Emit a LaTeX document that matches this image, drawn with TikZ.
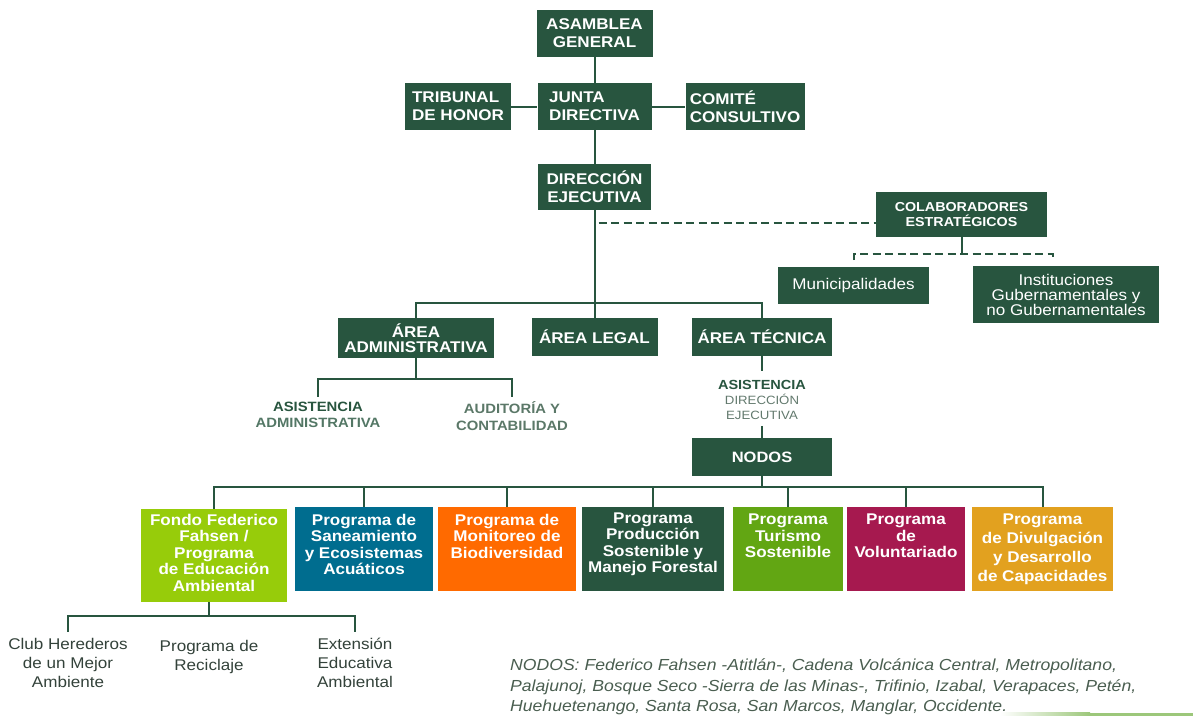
\documentclass[tikz,border=0pt]{standalone}
\usepackage{fontspec}
\setmainfont{Liberation Sans}[FakeStretch=1.1]
\usetikzlibrary{calc}
\definecolor{dg}{HTML}{28553F}
\definecolor{lime}{HTML}{97CC0A}
\definecolor{sblue}{HTML}{006D8F}
\definecolor{sorange}{HTML}{FF6A00}
\definecolor{tgreen}{HTML}{62A613}
\definecolor{vmag}{HTML}{A6194F}
\definecolor{dgold}{HTML}{E2A11F}
\definecolor{lbl}{HTML}{5B7868}
\definecolor{lbltwo}{HTML}{62796D}
\definecolor{subtxt}{HTML}{33423A}
\definecolor{notetxt}{HTML}{4A5E50}
\definecolor{lgreen}{HTML}{9CC77A}
\begin{document}
\begin{tikzpicture}[x=1pt,y=-1pt,
  box/.style={fill=#1, draw=none, inner sep=0pt, text=white, align=center},
  box/.default=dg,
  hd/.style={font=\bfseries\fontsize{15.5}{18}\selectfont},
  conn/.style={draw=dg, line width=2pt},
  dashline/.style={draw=dg, line width=2pt, dash pattern=on 8pt off 4.5pt},
  ptxt/.style={anchor=north, inner sep=0pt, text=white, align=center, font=\bfseries\fontsize{15.5}{16.5}\selectfont},
  lab/.style={inner sep=0pt, align=center, font=\bfseries\fontsize{13.5}{16}\selectfont},
  sub/.style={inner sep=0pt, align=center, text=subtxt, font=\fontsize{15.5}{19}\selectfont},
  note/.style={inner sep=0pt, align=left, text=notetxt, font=\itshape\fontsize{16}{20.5}\selectfont},
]
\useasboundingbox (0,0) rectangle (1193,717);

% top level
\node[box, hd, minimum width=116, minimum height=47] (asamblea) at (594.5,33.5) {ASAMBLEA\\GENERAL};
\node[box, hd, align=left, minimum width=114, minimum height=47] (junta) at (594.5,106.5) {JUNTA\\DIRECTIVA};
\node[box, hd, align=left, minimum width=106, minimum height=47] (tribunal) at (458,106.5) {TRIBUNAL\\DE HONOR};
\node[box, hd, align=left, minimum width=119, minimum height=47] (comite) at (745,106.5) {COMITÉ\\CONSULTIVO};
\node[box, hd, minimum width=113, minimum height=46] (direccion) at (594.5,187) {DIRECCIÓN\\EJECUTIVA};

% collaborators
\node[box, font=\bfseries\fontsize{13}{15.5}\selectfont, minimum width=171, minimum height=45] (colab) at (961.5,214.5) {COLABORADORES\\ESTRATÉGICOS};
\node[box, font=\fontsize{15.5}{17}\selectfont, minimum width=151, minimum height=37] (muni) at (853.5,285.5) {Municipalidades};
\node[box, font=\fontsize{15.5}{15}\selectfont, minimum width=186, minimum height=57] (inst) at (1066,294.5) {Instituciones\\Gubernamentales y\\no Gubernamentales};

% areas
\node[box, font=\bfseries\fontsize{15.5}{15.5}\selectfont, minimum width=156, minimum height=40] (areaadm) at (416,338) {ÁREA\\ADMINISTRATIVA};
\node[box, hd, minimum width=126, minimum height=38] (arealegal) at (594.5,337) {ÁREA LEGAL};
\node[box, hd, minimum width=140, minimum height=38] (areatec) at (762,337) {ÁREA TÉCNICA};

% labels
\node[lab] (asisadm) at (318,415) {{\color{dg}ASISTENCIA}\\{\color{dg!80!white}ADMINISTRATIVA}};
\node[lab, text=lbl, font=\bfseries\fontsize{13.5}{17}\selectfont] (auditoria) at (512,416.5) {AUDITORÍA Y\\CONTABILIDAD};
\node[lab, font=\bfseries\fontsize{13.2}{15}\selectfont] (asisdir) at (762,400) {{\color{dg}ASISTENCIA}\\{\mdseries\fontsize{12}{15}\selectfont\color{lbltwo}DIRECCIÓN}\\{\mdseries\fontsize{12}{15}\selectfont\color{lbltwo}EJECUTIVA}};

\node[box, font=\bfseries\fontsize{15}{17}\selectfont, minimum width=140, minimum height=38] (nodos) at (762,457) {NODOS};

% programs
\node[box=lime, minimum width=146, minimum height=93] (fondo) at (214,555.5) {};
\node[ptxt] (fondo-t) at (214,514) {Fondo Federico\\Fahsen /\\Programa\\de Educación\\Ambiental};
\node[box=sblue, minimum width=138, minimum height=84] (san) at (364,549) {};
\node[ptxt] (san-t) at (364,514) {Programa de\\Saneamiento\\y Ecosistemas\\Acuáticos};
\node[box=sorange, minimum width=138, minimum height=84] (mon) at (507,549) {};
\node[ptxt] (mon-t) at (507,514) {Programa de\\Monitoreo de\\Biodiversidad};
\node[box, minimum width=142, minimum height=84] (prod) at (653,549) {};
\node[ptxt] (prod-t) at (653,512.5) {Programa\\Producción\\Sostenible y\\Manejo Forestal};
\node[box=tgreen, minimum width=110, minimum height=84] (tur) at (788,549) {};
\node[ptxt] (tur-t) at (788,514) {Programa\\Turismo\\Sostenible};
\node[box=vmag, minimum width=118, minimum height=84] (vol) at (906,549) {};
\node[ptxt] (vol-t) at (906,514) {Programa\\de\\Voluntariado};
\node[box=dgold, minimum width=141, minimum height=84] (div) at (1042.5,549) {};
\node[ptxt, font=\bfseries\fontsize{15.5}{19}\selectfont] (div-t) at (1042.5,514) {Programa\\de Divulgación\\y Desarrollo\\de Capacidades};

% sub items
\node[sub] (club) at (68,663) {Club Herederos\\de un Mejor\\Ambiente};
\node[sub] (recic) at (209,657) {Programa de\\Reciclaje};
\node[sub] (ext) at (355,663) {Extensión\\Educativa\\Ambiental};

% note
\node[note, anchor=north west] (note) at (510,659) {NODOS: Federico Fahsen -Atitlán-, Cadena Volcánica Central, Metropolitano,\\Palajunoj, Bosque Seco -Sierra de las Minas-, Trifinio, Izabal, Verapaces, Petén,\\Huehuetenango, Santa Rosa, San Marcos, Manglar, Occidente.};

% connectors
\draw[conn] (asamblea.south) -- (junta.north);
\draw[conn] (tribunal.east) -- (junta.west);
\draw[conn] (junta.east) -- (comite.west);
\draw[conn] (junta.south) -- (direccion.north);
\coordinate (tb) at (594.5,303);
\draw[conn] (direccion.south) -- (arealegal.north);
\draw[conn] (areaadm.north) |- (tb) -| (areatec.north);

\coordinate (dj) at (594.5,223);
\draw[dashline] ([xshift=4pt]dj) -- (dj -| colab.west);
\coordinate (ytwo) at (0,254);
\coordinate (cb) at (colab.south |- ytwo);
\draw[conn] (colab.south) -- (cb);
\coordinate (dl) at (853.5,260);
\coordinate (dr) at (1053,260);
\draw[dashline] (dl) |- (cb) -| (dr);

\coordinate (ab) at (416,379);
\draw[conn] (areaadm.south) -- (ab);
\draw[conn, shorten >=5pt] (ab) -| (asisadm.north);
\draw[conn, shorten >=5pt] (ab) -| (auditoria.north);

\draw[conn, shorten >=9pt] (areatec.south) -- (asisdir.north);
\draw[conn, shorten <=6pt] (asisdir.south) -- (nodos.north);

\coordinate (nb) at (762,487);
\draw[conn] (nodos.south) -- (nb);
\foreach \p in {fondo,san,mon,prod,tur,vol,div}{
  \draw[conn] (nb) -| (\p.north);
}

\coordinate (fs) at (209,616);
\draw[conn] ([xshift=-5pt]fondo.south) -- (fs);
\draw[conn, shorten >=6pt] (fs) -| (club.north);
\draw[conn, shorten >=6pt] (fs) -| (ext.north);

% bottom accent line
\shade[left color=white, right color=lgreen] (1000,712.5) rectangle (1090,715.5);
\fill[lgreen] (1090,712.5) rectangle (1193,715.5);
\end{tikzpicture}
\end{document}
